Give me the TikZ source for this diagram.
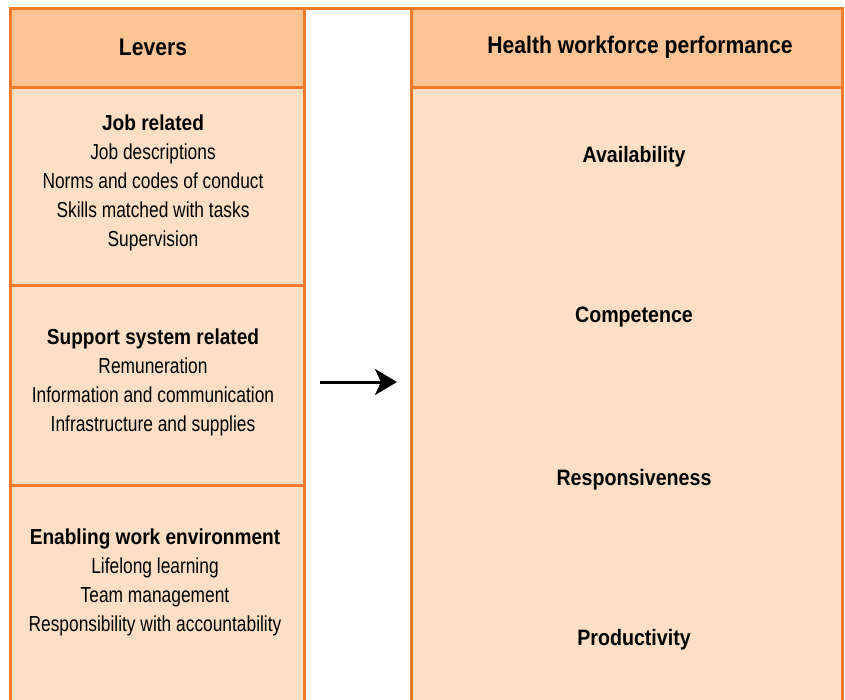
\documentclass[tikz,border=0pt]{standalone}
\usepackage{fontspec}
\setmainfont{Liberation Sans}[FakeStretch=0.8, BoldFeatures={FakeStretch=0.88}]
\usepackage{tikz}
\usetikzlibrary{arrows.meta}
\usepackage{xcolor}
\definecolor{frame}{HTML}{F37A2A}
\definecolor{headfill}{HTML}{FBC495}
\definecolor{bodyfill}{HTML}{FDDFC6}

\tikzset{
  head/.style={font=\fontsize{24}{26}\selectfont\bfseries},
  lever/.style={align=center, font=\fontsize{21.7}{29}\selectfont},
  outcome/.style={font=\fontsize{22.3}{24}\selectfont\bfseries},
}

\begin{document}
\begin{tikzpicture}[x=1pt, y=-1pt]
  \useasboundingbox (0,0) rectangle (845,699);
  \clip (0,0) rectangle (845,699);
  % fills
  \fill[headfill] (10, 8) rectangle (304, 87);
  \fill[bodyfill] (10, 87) rectangle (304, 720);
  \fill[headfill] (411, 8) rectangle (842, 87);
  \fill[bodyfill] (411, 87) rectangle (842, 720);

  % frame lines
  \begin{scope}[frame, line width=3pt]
    \draw (8.5, 8) -- (843.5, 8);
    \draw (10, 8) -- (10, 720);
    \draw (304, 8) -- (304, 720);
    \draw (411, 8) -- (411, 720);
    \draw (842, 8) -- (842, 720);
    \draw (10, 87) -- (304, 87);
    \draw (411, 87) -- (842, 87);
    \draw (10, 285) -- (304, 285);
    \draw (10, 485) -- (304, 485);
  \end{scope}

  \node[head] (levers) at (153, 47.5) {Levers};
  \node[head] (perf) at (640, 47.5) {Health workforce performance};

  \node[lever] (job) at (153, 183) {\textbf{Job related}\\Job descriptions\\Norms and codes of conduct\\Skills matched with tasks\\Supervision};
  \node[lever] (support) at (153, 382) {\textbf{Support system related}\\Remuneration\\Information and communication\\Infrastructure and supplies};
  \node[lever] (enabling) at (155, 582) {\textbf{Enabling work environment}\\Lifelong learning\\Team management\\Responsibility with accountability};

  \node[outcome] (avail) at (634, 156.5) {Availability};
  \node[outcome] (comp) at (634, 317.5) {Competence};
  \node[outcome] (resp) at (634, 479.5) {Responsiveness};
  \node[outcome] (prod) at (634, 639.5) {Productivity};

  \coordinate (from) at (320, 382);
  \coordinate (to) at (397, 382);
  \draw[line width=3pt, -{Stealth[length=22pt, width=26pt, inset=6pt]}] (from) -- (to);
\end{tikzpicture}
\end{document}
